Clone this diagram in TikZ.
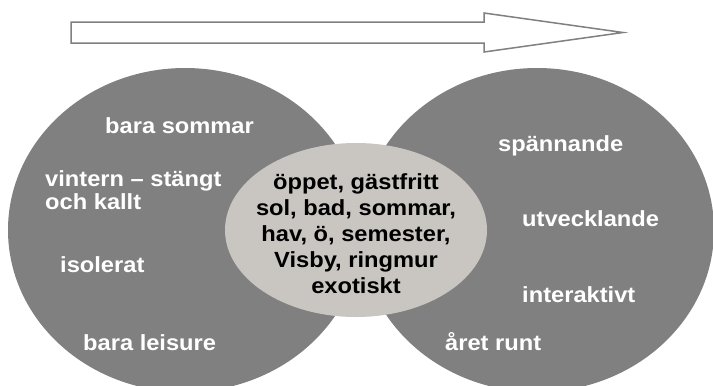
\documentclass[tikz,border=0pt]{standalone}
\usepackage{fontspec}
\setmainfont{Liberation Sans}
\newfontfamily\labfont{Liberation Sans}[FakeStretch=1.08]
\usetikzlibrary{shapes.geometric}
\definecolor{biggray}{HTML}{808080}
\definecolor{midgray}{HTML}{C9C5C1}
\tikzset{
  bigell/.style={ellipse, fill=biggray, draw=none, inner sep=0pt, outer sep=0pt,
    minimum width=354bp, minimum height=324bp},
  midell/.style={ellipse, fill=midgray, draw=none, inner sep=0pt, outer sep=0pt,
    minimum width=262bp, minimum height=174bp},
  wlab/.style={text=white, font=\labfont\bfseries\fontsize{22}{23.3}\selectfont,
    anchor=base west, inner sep=0pt, align=left},
  clab/.style={text=black, font=\labfont\bfseries\fontsize{22}{26}\selectfont,
    anchor=base, inner sep=0pt, align=center},
  bigarrow/.style={draw=biggray, line width=1.5bp, fill=white, line join=miter}
}
\begin{document}
\begin{tikzpicture}[x=1bp,y=-1bp]
\useasboundingbox (0,0) rectangle (713,385);
\clip (0,0) rectangle (713,385);
% arrow
\coordinate (a1) at (71,22);
\coordinate (a2) at (484,22);
\coordinate (a3) at (484,13);
\coordinate (a4) at (623,32.5);
\coordinate (a5) at (484,52);
\coordinate (a6) at (484,43);
\coordinate (a7) at (71,43);
\draw[bigarrow] (a1) -- (a2) -- (a3) -- (a4) -- (a5) -- (a6) -- (a7) -- cycle;
% ellipses
\node[bigell] (L) at (185,230) {};
\node[bigell] (R) at (537,230) {};
\node[midell] (M) at (356,230) {};
% left labels
\node[wlab] (l1) at (105,133) {bara sommar};
\node[wlab] (l2) at (45,186) {vintern – stängt};
\node[wlab] (l3) at (45,209) {och kallt};
\node[wlab] (l4) at (60,272) {isolerat};
\node[wlab] (l5) at (83,350) {bara leisure};
% right labels
\node[wlab] (r1) at (498,151) {spännande};
\node[wlab] (r2) at (522,226) {utvecklande};
\node[wlab] (r3) at (522,302) {interaktivt};
\node[wlab] (r4) at (445,350) {året runt};
% center labels
\node[clab] (c1) at (356,189) {öppet, gästfritt};
\node[clab] (c2) at (356,215) {sol, bad, sommar,};
\node[clab] (c3) at (356,241) {hav, ö, semester,};
\node[clab] (c4) at (356,267) {Visby, ringmur};
\node[clab] (c5) at (356,293) {exotiskt};
\end{tikzpicture}
\end{document}
